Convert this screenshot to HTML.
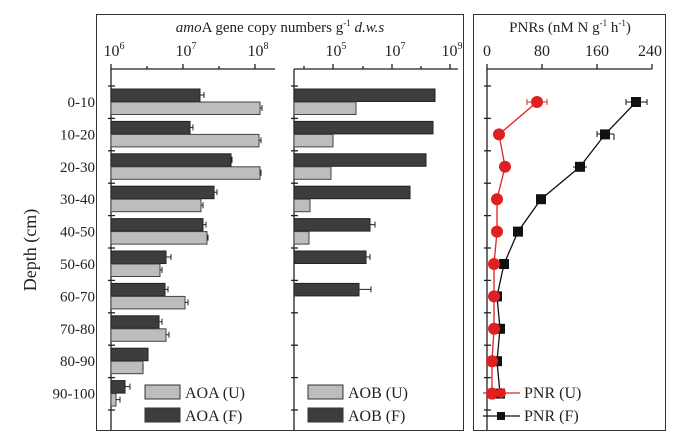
<!DOCTYPE html>
<html><head><style>body{margin:0;background:#fff}svg{display:block}text{font-family:"Liberation Serif",serif;fill:#222}</style></head><body>
<svg width="685" height="438" xmlns="http://www.w3.org/2000/svg">
<rect x="96.5" y="14.5" width="367" height="416" fill="none" stroke="#333"/>
<rect x="473.5" y="14.5" width="192" height="416" fill="none" stroke="#333"/>
<text x="280" y="32" font-size="15" text-anchor="middle"><tspan font-style="italic">amo</tspan>A gene copy numbers g<tspan font-size="9" dy="-6">-1</tspan><tspan dy="6" font-style="italic"> d.w.s</tspan></text>
<text x="570" y="32" font-size="15" text-anchor="middle">PNRs (nM N g<tspan font-size="9" dy="-6">-1</tspan><tspan dy="6"> h</tspan><tspan font-size="9" dy="-6">-1</tspan><tspan dy="6">)</tspan></text>
<g font-size="16" text-anchor="middle">
<text x="114" y="56">10<tspan font-size="10" dy="-7">6</tspan></text>
<text x="186" y="56">10<tspan font-size="10" dy="-7">7</tspan></text>
<text x="258" y="56">10<tspan font-size="10" dy="-7">8</tspan></text>
<text x="336" y="56">10<tspan font-size="10" dy="-7">5</tspan></text>
<text x="395" y="56">10<tspan font-size="10" dy="-7">7</tspan></text>
<text x="452" y="56">10<tspan font-size="10" dy="-7">9</tspan></text>
<text x="487" y="56">0</text><text x="542" y="56">80</text><text x="597" y="56">160</text><text x="650" y="56">240</text>
</g>
<g stroke="#222" stroke-width="1.3" fill="none">
<path d="M111 69H275M111 69V430M111 69v-5M147 69v-3M183 69v-5M219 69v-3M255 69v-5"/>
<path d="M294 69H458M294 69V430M304 69v-3M333 69v-5M363 69v-3M392 69v-5M421 69v-3M450 69v-5"/>
<path d="M487 69H652M487 69V430M487 69v-5M542 69v-5M597 69v-5M652 69v-5"/>
</g>
<g id="ticks" stroke="#222" stroke-width="1.3"></g>
<text transform="translate(36,250) rotate(-90)" font-size="18" text-anchor="middle">Depth (cm)</text>
<g font-size="15" text-anchor="end" id="labs"></g>
<g id="bars"></g>
<g id="pnr"></g>
<g font-size="16">
<rect x="145" y="385" width="35" height="14" fill="#bdbdbd" stroke="#333"/><text x="185" y="398">AOA (U)</text>
<rect x="145" y="408" width="35" height="14" fill="#3d3d3d" stroke="#333"/><text x="185" y="421">AOA (F)</text>
<rect x="308" y="385" width="35" height="14" fill="#bdbdbd" stroke="#333"/><text x="348" y="398">AOB (U)</text>
<rect x="308" y="408" width="35" height="14" fill="#3d3d3d" stroke="#333"/><text x="348" y="421">AOB (F)</text>
<line x1="483" y1="393" x2="520" y2="393" stroke="#e02020" stroke-width="1.3"/><circle cx="501" cy="393" r="5" fill="#e02020"/><text x="524" y="398">PNR (U)</text>
<line x1="483" y1="416" x2="520" y2="416" stroke="#111" stroke-width="1.3"/><rect x="497" y="412" width="8" height="8" fill="#111"/><text x="524" y="421">PNR (F)</text>
</g>
<script>
var ns="http://www.w3.org/2000/svg";function el(p,t,a,tx){var e=document.createElementNS(ns,t);for(var k in a)e.setAttribute(k,a[k]);if(tx)e.textContent=tx;document.getElementById(p).appendChild(e);}
var labs=["0-10","10-20","20-30","30-40","40-50","50-60","60-70","70-80","80-90","90-100"];
var aF=[200,190,231,214,203,166,165,159,148,125],aU=[260,259,260,201,207,160,185,166,143,116];
var aFe=[204,193,232,217,206,171,168,162,148,130],aUe=[262,261,261,203,208,162,188,169,143,120];
var bF=[435,433,426,410,370,366,359],bU=[356,333,331,310,309];
var bFe=[435,433,426,410,375,370,371];
var pU=[537,499,505,497,497,494,494,494,492,492],pF=[636,605,580,541,518,504,497,500,497,500];
for(var i=0;i<10;i++){var c=102+i*32.4;
el("labs","text",{x:95,y:c+5},labs[i]);
[111,294,487].forEach(function(x){el("ticks","line",{x1:x-3,x2:x+4,y1:c-16,y2:c-16});});
el("bars","rect",{x:111,y:c-13,width:aF[i]-111,height:12.5,fill:"#3d3d3d",stroke:"#222"});
el("bars","rect",{x:111,y:c,width:aU[i]-111,height:12.5,fill:"#bdbdbd",stroke:"#444"});
el("bars","path",{d:"M"+aF[i]+" "+(c-7)+"H"+aFe[i]+"m0 -3v6M"+aU[i]+" "+(c+6)+"H"+aUe[i]+"m0 -3v6",stroke:"#222",fill:"none"});
if(i<7){el("bars","rect",{x:294,y:c-13,width:bF[i]-294,height:12.5,fill:"#3d3d3d",stroke:"#222"});
el("bars","path",{d:"M"+bF[i]+" "+(c-7)+"H"+bFe[i]+"m0 -3v6",stroke:"#222",fill:"none"});}
if(i<5)el("bars","rect",{x:294,y:c,width:bU[i]-294,height:12.5,fill:"#bdbdbd",stroke:"#444"});
}
[111,294,487].forEach(function(x){el("ticks","line",{x1:x-3,x2:x+4,y1:102+10*32.4-16,y2:102+10*32.4-16});});
var dU="",dF="";for(i=0;i<10;i++){var c=102+i*32.4;dU+=(i?"L":"M")+pU[i]+" "+c;dF+=(i?"L":"M")+pF[i]+" "+c;}
el("pnr","path",{d:dF,stroke:"#111",fill:"none","stroke-width":1.3});
el("pnr","path",{d:dU,stroke:"#e02020",fill:"none","stroke-width":1.3});
el("pnr","path",{d:"M626 102H647m-21-3v6m21-6v6M597 134H614m-17-3v6m17-3v6M573 167H587",stroke:"#111",fill:"none"});
el("pnr","path",{d:"M527 102H547m-20-3v6m20-6v6",stroke:"#e02020",fill:"none"});
for(i=0;i<10;i++){var c=102+i*32.4;el("pnr","rect",{x:pF[i]-5,y:c-5,width:10,height:10,fill:"#111"});el("pnr","circle",{cx:pU[i],cy:c,r:6,fill:"#e02020"});}
</script>
</svg>
</body></html>
